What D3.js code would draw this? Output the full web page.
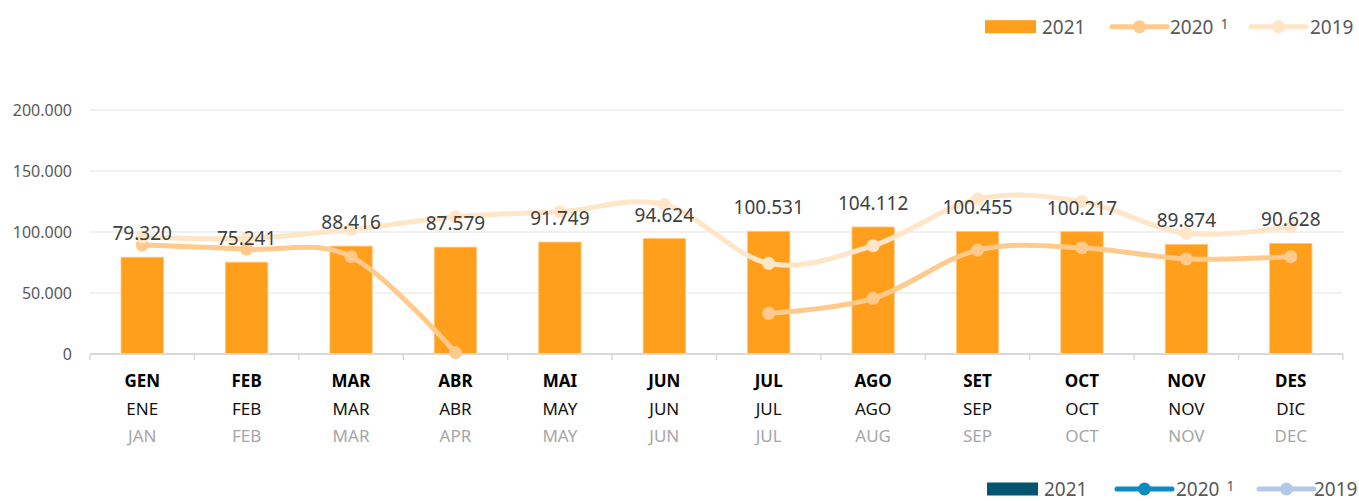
<!DOCTYPE html>
<html>
<head>
<meta charset="utf-8">
<script src="https://cdn.jsdelivr.net/npm/d3@7"></script>
<style>
  html, body { margin: 0; padding: 0; background: #fff; }
  svg { display: block; font-family: "Noto Sans", "Open Sans", sans-serif; }
</style>
</head>
<body>
<svg id="chart" width="1359" height="501"></svg>
<script>
// Month labels: Catalan, Spanish, English
const monthsCa = ["GEN","FEB","MAR","ABR","MAI","JUN","JUL","AGO","SET","OCT","NOV","DES"];
const monthsEs = ["ENE","FEB","MAR","ABR","MAY","JUN","JUL","AGO","SEP","OCT","NOV","DIC"];
const monthsEn = ["JAN","FEB","MAR","APR","MAY","JUN","JUL","AUG","SEP","OCT","NOV","DEC"];

// Monthly figures per year (null = no data)
const values2021 = [79320, 75241, 88416, 87579, 91749, 94624, 100531, 104112, 100455, 100217, 89874, 90628];
const values2020 = [89300, 85800, 79800, 1200, null, null, 33300, 45600, 85200, 87100, 77900, 79800];
const values2019 = [96000, 94800, 102000, 112500, 116600, 122500, 74300, 88800, 127000, 125000, 98900, 104300];

const yTicks = [0, 50000, 100000, 150000, 200000];

const svg = d3.select("#chart");

const x = d3.scaleBand().domain(d3.range(12)).range([90, 1343]).padding(0);
const y = d3.scaleLinear().domain([0, 200000]).range([354, 110]);
const barW = x.bandwidth() * 0.405;
const cx = i => x(i) + x.bandwidth() / 2;

const fmt = v => d3.format(",")(v).replace(/,/g, ".");

// Gridlines
svg.append("g").selectAll("line").data(yTicks.filter(t => t > 0)).join("line")
  .attr("x1", 90).attr("x2", 1343)
  .attr("y1", d => y(d)).attr("y2", d => y(d))
  .attr("stroke", "#ececec").attr("stroke-width", 1.5);

// Y axis labels
svg.append("g").selectAll("text").data(yTicks).join("text")
  .attr("x", 72).attr("y", d => y(d)).attr("dy", "0.36em")
  .attr("text-anchor", "end")
  .attr("font-size", 16).attr("fill", "#595959")
  .text(d => fmt(d));

// Bars
svg.append("g").selectAll("rect").data(values2021).join("rect")
  .attr("x", (d, i) => cx(i) - barW / 2)
  .attr("width", barW)
  .attr("y", d => y(d))
  .attr("height", d => y(0) - y(d))
  .attr("fill", "#ff9f1c")
  .attr("stroke", "#ffc57a").attr("stroke-width", 0.8);

// Baseline and category ticks
svg.append("line").attr("x1", 90).attr("x2", 1343).attr("y1", y(0)).attr("y2", y(0))
  .attr("stroke", "#d9d9d9").attr("stroke-width", 2);
svg.append("g").selectAll("line").data(d3.range(13)).join("line")
  .attr("x1", i => i < 12 ? x(i) : 1343).attr("x2", i => i < 12 ? x(i) : 1343)
  .attr("y1", y(0)).attr("y2", y(0) + 6)
  .attr("stroke", "#d9d9d9").attr("stroke-width", 1.5);

// Smoothed lines with markers
const line = d3.line()
  .defined(d => d != null)
  .x((d, i) => cx(i))
  .y(d => y(d))
  .curve(d3.curveCatmullRom.alpha(0));

function drawSeries(data, color) {
  svg.append("path").datum(data)
    .attr("d", line)
    .attr("fill", "none").attr("stroke", color)
    .attr("stroke-width", 5).attr("stroke-linecap", "round");
  svg.append("g").selectAll("circle")
    .data(data.map((v, i) => ({ v, i })).filter(d => d.v != null))
    .join("circle")
    .attr("cx", d => cx(d.i)).attr("cy", d => y(d.v)).attr("r", 6.5)
    .attr("fill", color);
}
drawSeries(values2020, "#ffca8c");
drawSeries(values2019, "#ffe6c9");

// Value labels for 2021
svg.append("g").selectAll("text").data(values2021).join("text")
  .attr("x", (d, i) => cx(i)).attr("y", d => y(d) - 17)
  .attr("text-anchor", "middle")
  .attr("font-size", 19).attr("fill", "#404040")
  .text(d => fmt(d));

// Month labels under the axis
const xl = svg.append("g");
xl.selectAll("text.ca").data(monthsCa).join("text").attr("class", "ca")
  .attr("x", (d, i) => cx(i)).attr("y", 387).attr("text-anchor", "middle")
  .attr("font-size", 17).attr("font-weight", "bold").attr("fill", "#000").text(d => d);
xl.selectAll("text.es").data(monthsEs).join("text").attr("class", "es")
  .attr("x", (d, i) => cx(i)).attr("y", 415).attr("text-anchor", "middle")
  .attr("font-size", 17).attr("fill", "#111").text(d => d);
xl.selectAll("text.en").data(monthsEn).join("text").attr("class", "en")
  .attr("x", (d, i) => cx(i)).attr("y", 442).attr("text-anchor", "middle")
  .attr("font-size", 17).attr("fill", "#a6a6a6").text(d => d);

// Legends
function legend(g, colors, pos) {
  g.append("rect").attr("x", pos.rect).attr("y", pos.y - 6.5).attr("width", 51).attr("height", 13)
    .attr("fill", colors[0]);
  g.append("text").attr("x", pos.t1).attr("y", pos.y).attr("dy", "0.36em")
    .attr("font-size", 19).attr("fill", "#595959").text("2021");
  [[pos.l2, colors[1], pos.t2, "2020"], [pos.l3, colors[2], pos.t3, "2019"]].forEach(([lx, c, tx, label], k) => {
    g.append("line").attr("x1", lx).attr("x2", lx + 55).attr("y1", pos.y).attr("y2", pos.y)
      .attr("stroke", c).attr("stroke-width", 5).attr("stroke-linecap", "round");
    g.append("circle").attr("cx", lx + 27.5).attr("cy", pos.y).attr("r", 6.5).attr("fill", c);
    const t = g.append("text").attr("x", tx).attr("y", pos.y).attr("dy", "0.36em")
      .attr("font-size", 19).attr("fill", "#595959").text(label);
    if (k === 0) {
      t.append("tspan").attr("dx", 7).attr("dy", "-0.35em").attr("font-size", 14).text("1");
    }
  });
}
legend(svg.append("g"), ["#ff9f1c", "#ffca8c", "#ffe6c9"],
  { y: 26.7, rect: 985, t1: 1042, l2: 1112, t2: 1170, l3: 1251, t3: 1310 });
legend(svg.append("g"), ["#02546f", "#0d8bc0", "#b4c8e8"],
  { y: 489, rect: 987, t1: 1044, l2: 1117, t2: 1176, l3: 1259, t3: 1314 });
</script>
</body>
</html>
